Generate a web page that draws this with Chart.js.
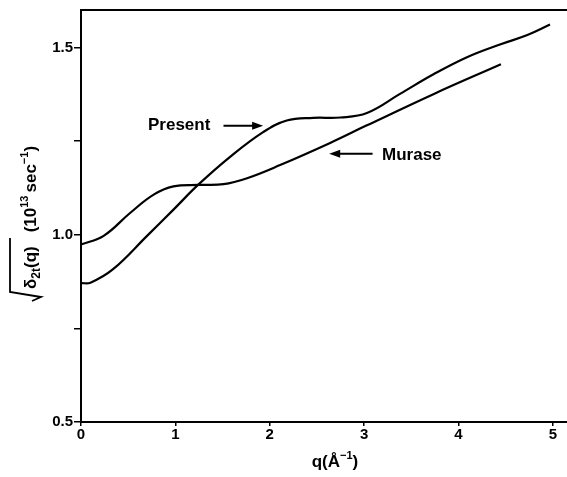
<!DOCTYPE html>
<html>
<head>
<meta charset="utf-8">
<script src="https://cdn.jsdelivr.net/npm/chart.js@4.4.0/dist/chart.umd.min.js"></script>
<style>
  html, body { margin: 0; padding: 0; background: #fff; }
  #wrap { width: 567px; height: 477px; }
</style>
</head>
<body>
<div id="wrap"><canvas id="myChart" width="567" height="477"></canvas></div>
<script>
'use strict'

// values
const presentQ = [0, 0.1, 0.34, 0.70, 0.98, 1.24, 1.58, 1.93, 2.18, 2.46, 2.75, 3.03, 3.38, 3.74, 4.09, 4.44, 4.73, 4.97]
const presentV = [0.871, 0.872, 0.908, 0.997, 1.067, 1.133, 1.208, 1.274, 1.305, 1.312, 1.313, 1.325, 1.376, 1.429, 1.474, 1.508, 1.533, 1.561]

const muraseQ = [0, 0.24, 0.52, 0.77, 0.98, 1.24, 1.51, 1.76, 2.11, 2.64, 3.03, 3.74, 4.45]
const muraseV = [0.974, 0.997, 1.058, 1.107, 1.129, 1.133, 1.135, 1.151, 1.186, 1.245, 1.292, 1.376, 1.455]

const xTicks = [0, 1, 2, 3, 4, 5]
const yTicks = [0.5, 0.75, 1.0, 1.25, 1.5]
const yLabelled = [0.5, 1.0, 1.5]

const FONT = '"Liberation Sans", Arial, sans-serif'

const toPoints = (qs, vs) => qs.map((q, i) => ({ x: q, y: vs[i] }))

// draw a row of text pieces along the current baseline, returns the width
const drawPieces = (ctx, pieces, x, y, dry) => {
    let cx = x
    pieces.forEach((p) => {
        ctx.font = `bold ${p.size}px ${FONT}`
        if (!dry) ctx.fillText(p.t, cx, y + (p.dy || 0))
        cx += ctx.measureText(p.t).width + (p.gap || 0)
    })
    return cx - x
}

const arrow = (ctx, x1, y1, x2, y2) => {
    const ang = Math.atan2(y2 - y1, x2 - x1)
    ctx.beginPath()
    ctx.moveTo(x1, y1)
    ctx.lineTo(x2 - 8 * Math.cos(ang), y2 - 8 * Math.sin(ang))
    ctx.lineWidth = 2
    ctx.stroke()
    ctx.beginPath()
    ctx.moveTo(x2, y2)
    ctx.lineTo(x2 - 11 * Math.cos(ang) + 4 * Math.sin(ang), y2 - 11 * Math.sin(ang) - 4 * Math.cos(ang))
    ctx.lineTo(x2 - 11 * Math.cos(ang) - 4 * Math.sin(ang), y2 - 11 * Math.sin(ang) + 4 * Math.cos(ang))
    ctx.closePath()
    ctx.fill()
}

const decorations = {
    id: 'decorations',
    afterDraw(chart) {
        const ctx = chart.ctx
        const area = chart.chartArea
        const xs = chart.scales.x
        const ys = chart.scales.y
        ctx.save()
        ctx.fillStyle = '#000'
        ctx.strokeStyle = '#000'

        // top frame line
        ctx.beginPath()
        ctx.lineWidth = 2
        ctx.moveTo(area.left, area.top)
        ctx.lineTo(area.right, area.top)
        ctx.stroke()

        // curve labels with arrows
        ctx.textBaseline = 'middle'
        ctx.font = `bold 17px ${FONT}`
        ctx.fillText('Present', xs.getPixelForValue(0.71), ys.getPixelForValue(1.291))
        arrow(ctx, xs.getPixelForValue(1.51), ys.getPixelForValue(1.291), xs.getPixelForValue(1.93), ys.getPixelForValue(1.291))
        ctx.fillText('Murase', xs.getPixelForValue(3.19), ys.getPixelForValue(1.212))
        arrow(ctx, xs.getPixelForValue(3.09), ys.getPixelForValue(1.216), xs.getPixelForValue(2.63), ys.getPixelForValue(1.216))

        // x title q(Å^-1)
        ctx.textBaseline = 'alphabetic'
        const xt = [
            { t: 'q(Å', size: 17 },
            { t: '−1', size: 11, dy: -8 },
            { t: ')', size: 17 }
        ]
        const w = drawPieces(ctx, xt, 0, 0, true)
        drawPieces(ctx, xt, 335 - w / 2, 467)

        // y title, rotated
        ctx.translate(36, 292)
        ctx.rotate(-Math.PI / 2)
        const yt = [
            { t: 'δ', size: 17 },
            { t: '2t', size: 12, dy: 4 },
            { t: '(q)', size: 17, gap: 14 },
            { t: '(10', size: 17 },
            { t: '13', size: 11, dy: -8, gap: 3 },
            { t: 'sec', size: 17 },
            { t: '−1', size: 11, dy: -8 },
            { t: ')', size: 17 }
        ]
        drawPieces(ctx, yt, 3, 0)
        // radical sign
        ctx.beginPath()
        ctx.lineWidth = 1.8
        ctx.moveTo(-9, -4)
        ctx.lineTo(-5, 5)
        ctx.lineTo(0, -26)
        ctx.lineTo(54, -26)
        ctx.stroke()
        ctx.restore()
    }
}

const ctx = document.getElementById('myChart')

const myChart = new Chart(ctx, {
    type: 'line',
    data: {
        datasets: [
            {
                label: 'Present',
                data: toPoints(presentQ, presentV),
                borderColor: '#000',
                borderWidth: 2.2,
                pointRadius: 0,
                tension: 0.4,
                fill: false
            },
            {
                label: 'Murase',
                data: toPoints(muraseQ, muraseV),
                borderColor: '#000',
                borderWidth: 2.2,
                pointRadius: 0,
                tension: 0.4,
                fill: false
            }
        ]
    },
    options: {
        responsive: false,
        animation: false,
        devicePixelRatio: 1,
        layout: { padding: { top: 6, right: 0, left: 0, bottom: 0 } },
        plugins: {
            legend: { display: false },
            tooltip: { enabled: false }
        },
        scales: {
            x: {
                type: 'linear',
                min: 0,
                max: 5.15,
                afterBuildTicks: (scale) => { scale.ticks = xTicks.map((v) => ({ value: v })) },
                afterFit: (scale) => { scale.height = 55 },
                ticks: {
                    color: '#000',
                    padding: 0,
                    maxRotation: 0,
                    font: { family: FONT, size: 15, weight: 'bold' },
                    callback: (v) => String(v)
                },
                grid: { drawOnChartArea: false, color: '#000', lineWidth: 1.5, tickLength: 4 },
                border: { color: '#000', width: 2 }
            },
            y: {
                min: 0.5,
                max: 1.6,
                afterBuildTicks: (scale) => { scale.ticks = yTicks.map((v) => ({ value: v })) },
                afterFit: (scale) => { scale.width = 81 },
                ticks: {
                    color: '#000',
                    padding: 1,
                    font: { family: FONT, size: 15, weight: 'bold' },
                    callback: (v) => yLabelled.includes(v) ? v.toFixed(1) : ''
                },
                grid: { drawOnChartArea: false, color: '#000', lineWidth: 1.5, tickLength: 7 },
                border: { color: '#000', width: 2 }
            }
        }
    },
    plugins: [decorations]
})
</script>
</body>
</html>
